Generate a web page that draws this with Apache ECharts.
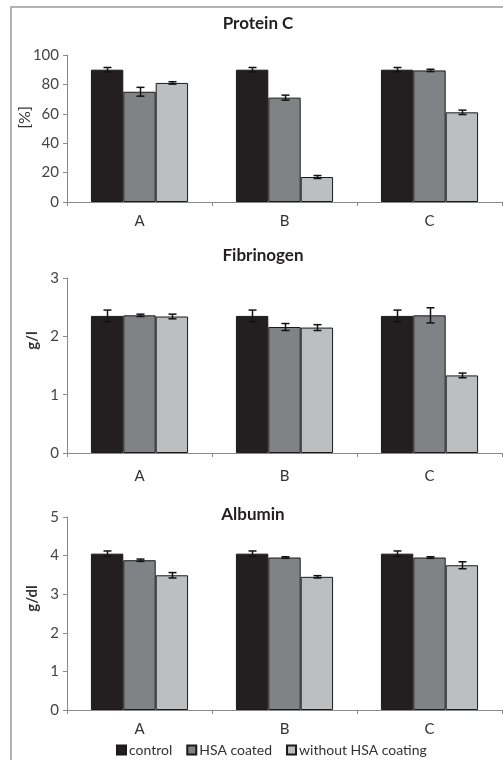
<!DOCTYPE html>
<html>
<head>
<meta charset="utf-8">
<script src="https://cdn.jsdelivr.net/npm/echarts@6/dist/echarts.min.js"></script>
<style>
html,body{margin:0;padding:0;background:#fff;}
#chart{width:503px;height:760px;}
</style>
</head>
<body>
<div id="chart"></div>
<script>
// ---- data ----
const categories = ['A', 'B', 'C'];
const seriesNames = ['control', 'HSA coated', 'without HSA coating'];

const proteinControl = [90, 90, 90];
const proteinControlErr = [1.5, 1.5, 1.5];
const proteinHSA = [75, 71, 89.5];
const proteinHSAErr = [3, 1.7, 0.8];
const proteinNoHSA = [81, 17, 61];
const proteinNoHSAErr = [0.8, 1, 1.5];

const fibControl = [2.35, 2.35, 2.35];
const fibControlErr = [0.1, 0.1, 0.1];
const fibHSA = [2.36, 2.16, 2.36];
const fibHSAErr = [0.02, 0.06, 0.13];
const fibNoHSA = [2.34, 2.15, 1.33];
const fibNoHSAErr = [0.04, 0.05, 0.04];

const albControl = [4.05, 4.05, 4.05];
const albControlErr = [0.07, 0.07, 0.07];
const albHSA = [3.88, 3.95, 3.95];
const albHSAErr = [0.03, 0.02, 0.02];
const albNoHSA = [3.49, 3.45, 3.75];
const albNoHSAErr = [0.07, 0.03, 0.09];

const panelTitles = ['Protein C', 'Fibrinogen', 'Albumin'];
const yNames = ['[%]', 'g/l', 'g/dl'];
const yMax = [100, 3, 5];
const yInterval = [20, 1, 1];

// ---- styling ----
const colors = ['#231f20', '#808285', '#bcbec0'];
const FONT = 'Lato';
const FS = 15;
const CAT_GAP = 0.33;
const axisGray = '#8a8a8a';

const panels = [
  { vals: [proteinControl, proteinHSA, proteinNoHSA], errs: [proteinControlErr, proteinHSAErr, proteinNoHSAErr] },
  { vals: [fibControl, fibHSA, fibNoHSA], errs: [fibControlErr, fibHSAErr, fibNoHSAErr] },
  { vals: [albControl, albHSA, albNoHSA], errs: [albControlErr, albHSAErr, albNoHSAErr] }
];

const grids = [
  { left: 67, top: 55, width: 435, height: 147 },
  { left: 67, top: 278, width: 435, height: 175 },
  { left: 67, top: 517, width: 435, height: 193 }
];
const yNameGap = [34, 27, 27];
const yNamePad = [[0, 0, 0, 22], [0, 0, 0, 50], [0, 0, 0, 30]];
const yNameBold = ['normal', 'bold', 'bold'];
const yNameSize = [16, 15, 15];

const xAxes = [], yAxes = [], series = [];
grids.forEach((g, i) => {
  xAxes.push({
    type: 'category', gridIndex: i, data: categories,
    axisLine: { lineStyle: { color: axisGray, width: 1 } },
    axisTick: { show: true, length: 4, alignWithLabel: false, lineStyle: { color: axisGray } },
    axisLabel: { fontFamily: FONT, fontSize: FS, color: '#333', margin: i === 1 ? 16 : 12 }
  });
  yAxes.push({
    type: 'value', gridIndex: i, min: 0, max: yMax[i], interval: yInterval[i],
    name: yNames[i], nameLocation: 'middle', nameGap: yNameGap[i], nameMoveOverlap: false,
    nameTextStyle: { fontFamily: FONT, fontSize: yNameSize[i], color: '#333', fontWeight: yNameBold[i], padding: yNamePad[i] },
    axisLine: { show: true, lineStyle: { color: axisGray, width: 1 } },
    axisTick: { show: true, length: 4, lineStyle: { color: axisGray } },
    splitLine: { show: false },
    axisLabel: { fontFamily: FONT, fontSize: FS, color: '#444', margin: 8 }
  });
  panels[i].vals.forEach((vals, k) => {
    series.push({
      type: 'bar', name: seriesNames[k], xAxisIndex: i, yAxisIndex: i,
      data: vals, barGap: '0%', barCategoryGap: (CAT_GAP * 100) + '%',
      itemStyle: { color: colors[k], borderColor: '#1a1a1a', borderWidth: 1 },
      emphasis: { disabled: true }
    });
  });
  panels[i].vals.forEach((vals, k) => {
    const data = vals.map((v, c) => [c, v, panels[i].errs[k][c]]);
    series.push({
      type: 'custom', name: seriesNames[k], xAxisIndex: i, yAxisIndex: i, z: 10,
      data: data,
      renderItem: function (params, api) {
        const c = api.value(0), v = api.value(1), e = api.value(2);
        const catW = api.size([1, 0])[0];
        const bw = catW * (1 - CAT_GAP) / 3;
        const center = api.coord([c, v]);
        const x = Math.round(center[0] + (k - 1) * bw) + 0.5;
        const yt = api.coord([c, v + e])[1];
        const yb = api.coord([c, v - e])[1];
        const cap = 4;
        const st = { stroke: '#111', lineWidth: 1.5 };
        return {
          type: 'group',
          children: [
            { type: 'line', shape: { x1: x, y1: yt, x2: x, y2: yb }, style: st },
            { type: 'line', shape: { x1: x - cap, y1: yt, x2: x + cap, y2: yt }, style: st },
            { type: 'line', shape: { x1: x - cap, y1: yb, x2: x + cap, y2: yb }, style: st }
          ]
        };
      }
    });
  });
});

const titlePos = [[258, 15], [263, 247], [253, 506]];
const titles = panelTitles.map((t, i) => ({
  text: t, left: titlePos[i][0], top: titlePos[i][1], textAlign: 'center',
  padding: 0,
  textStyle: { fontFamily: FONT, fontSize: 17, fontWeight: 'bold', color: '#231f20' }
}));

const chart = echarts.init(document.getElementById('chart'), null, { renderer: 'canvas' });
chart.setOption({
  animation: false,
  backgroundColor: '#ffffff',
  title: titles,
  grid: grids,
  xAxis: xAxes,
  yAxis: yAxes,
  legend: {
    data: seriesNames, left: 111, top: 738, itemWidth: 9, itemHeight: 9, itemGap: 14,
    icon: 'rect',
    textStyle: { fontFamily: FONT, fontSize: 14, color: '#333', padding: [0, 0, 0, -2] },
    selectedMode: false
  },
  graphic: [{
    type: 'rect', shape: { x: 11, y: 7, width: 600, height: 800 },
    style: { fill: 'none', stroke: '#9a9a9a', lineWidth: 1.5 }, silent: true, z: -1
  }],
  series: series
});
</script>
</body>
</html>
